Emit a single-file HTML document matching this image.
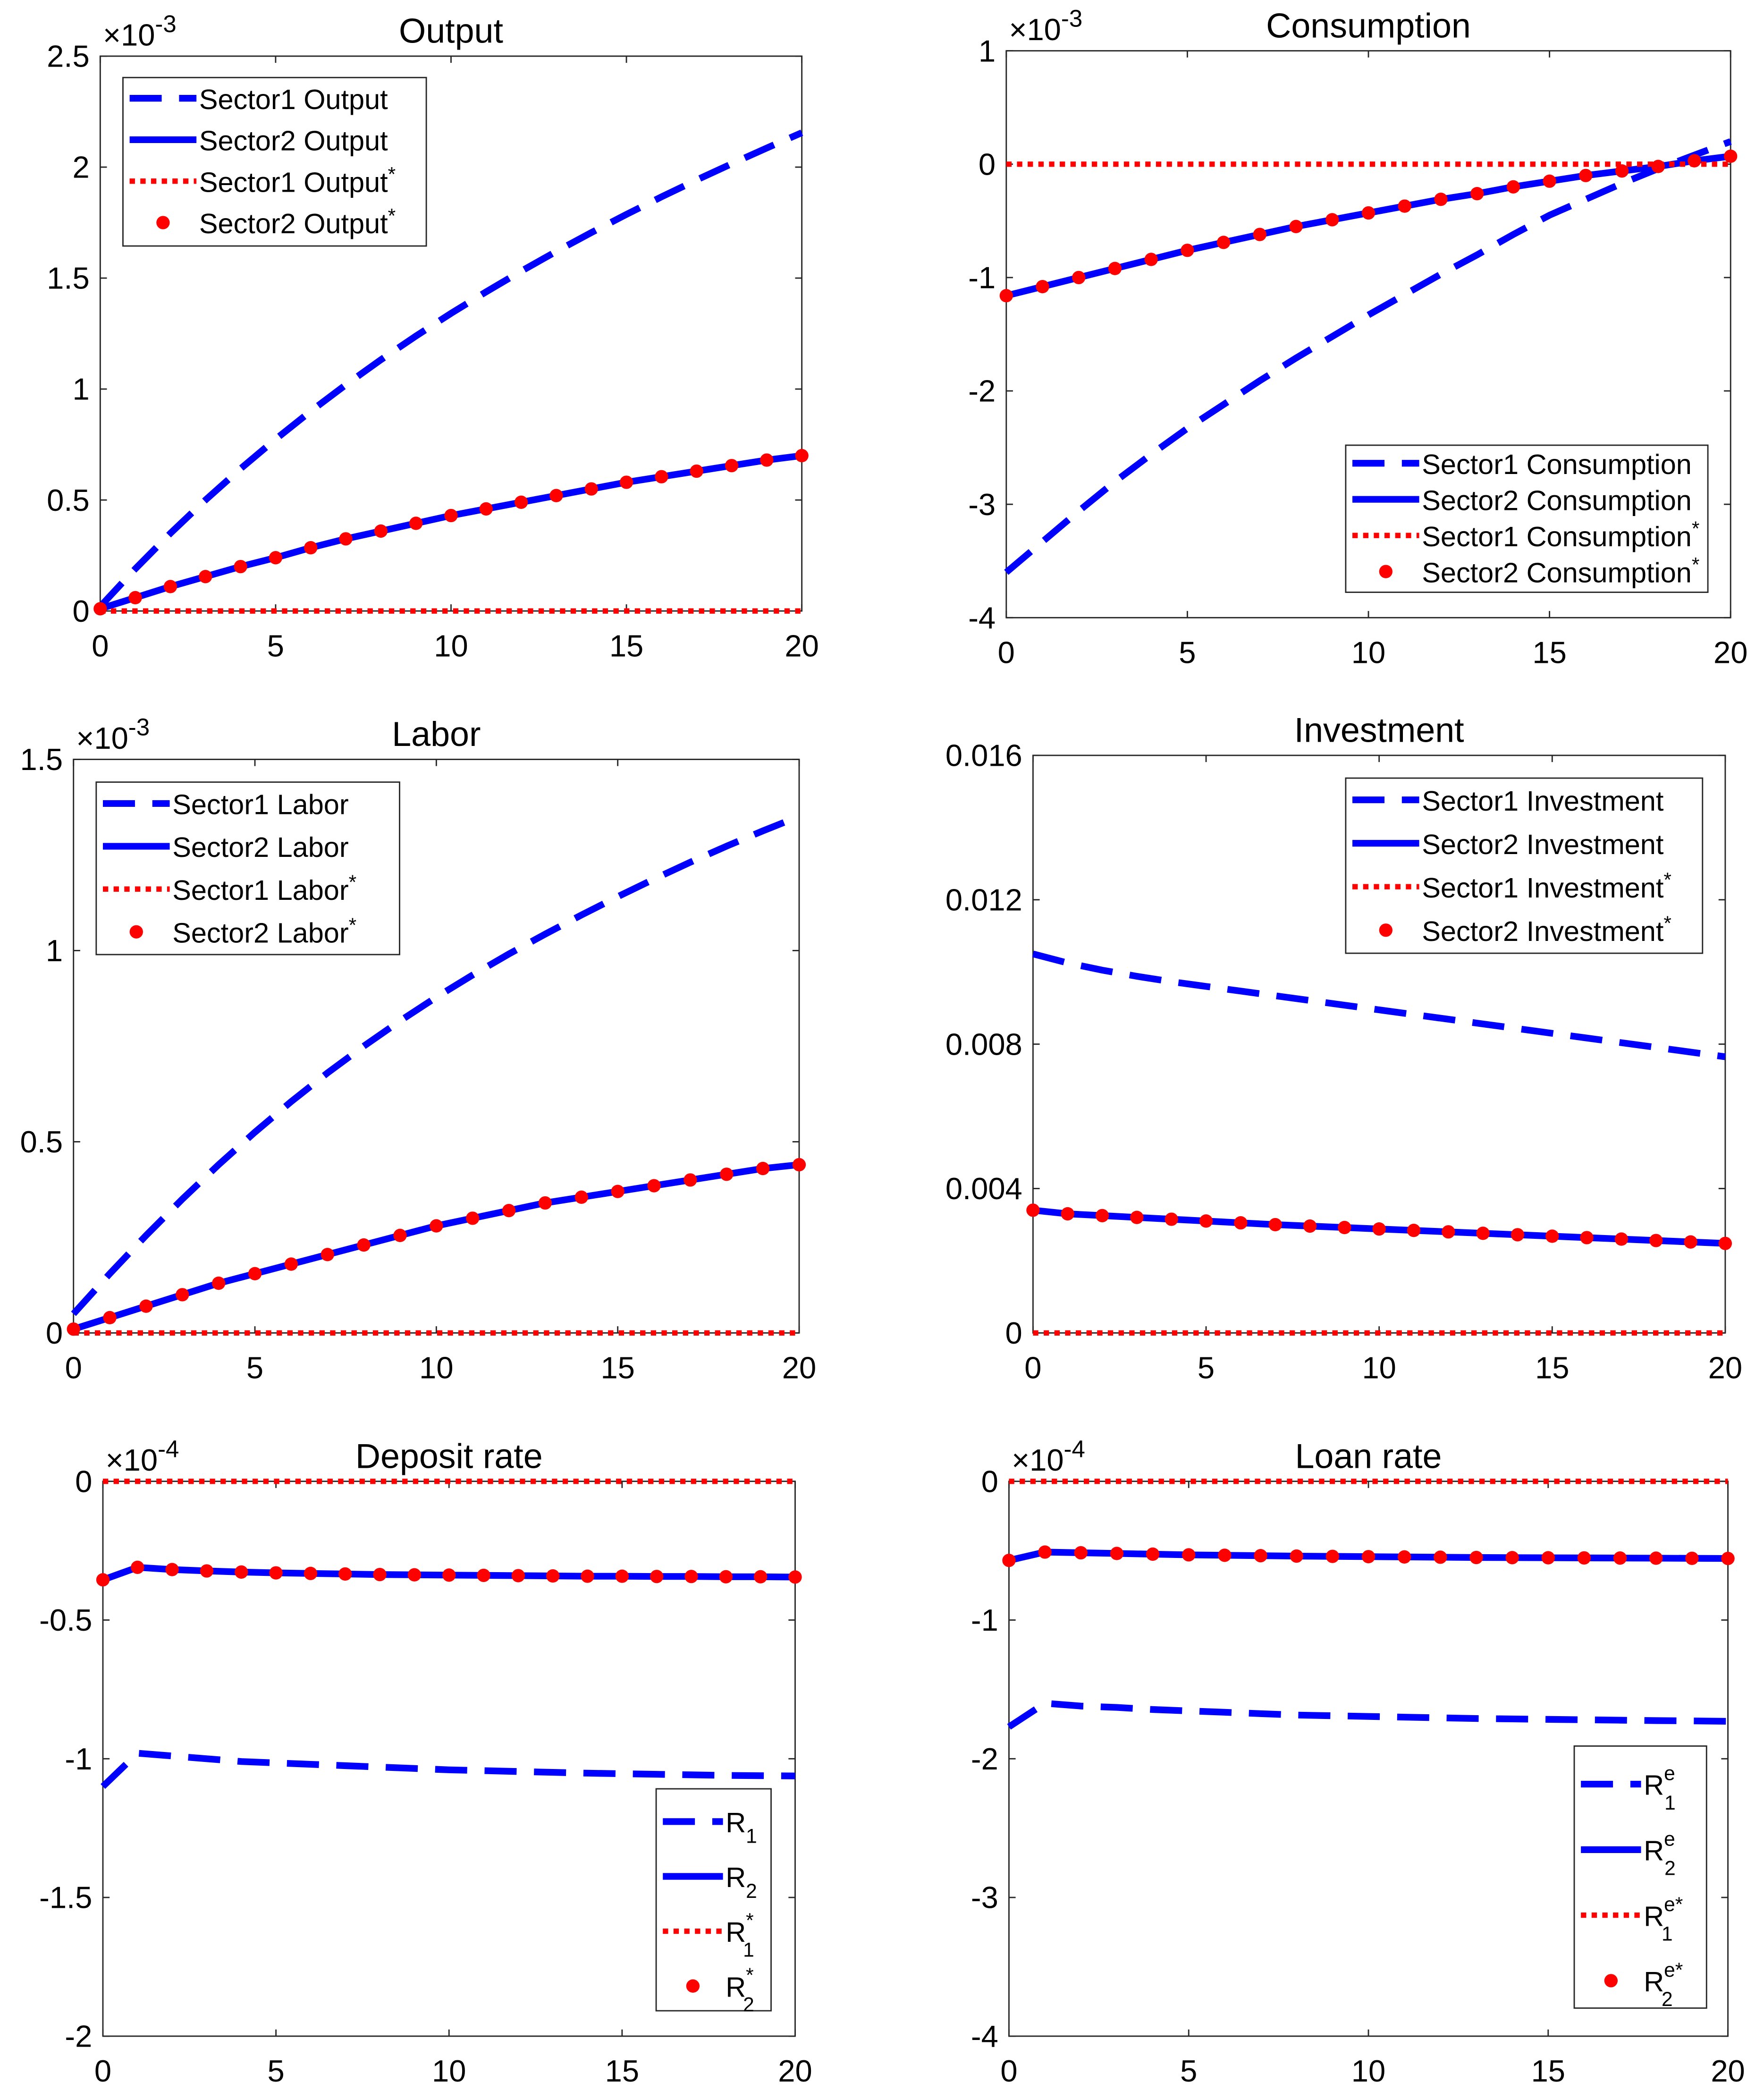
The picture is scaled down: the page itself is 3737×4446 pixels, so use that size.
<!DOCTYPE html>
<html><head><meta charset="utf-8"><style>
html,body{margin:0;padding:0;background:#fff}
svg{display:block}
text{font-family:"Liberation Sans",sans-serif;fill:#000}
</style></head><body>
<svg id="fig" width="3737" height="4446" viewBox="0 0 1320 1570" preserveAspectRatio="none" xmlns="http://www.w3.org/2000/svg"></svg>
<script>
// ---- data (t = 0..20) ----
const periods = [0,1,2,3,4,5,6,7,8,9,10,11,12,13,14,15,16,17,18,19,20];
const xTicks = [0,5,10,15,20];

const outputS1 = [0.02,0.19,0.35,0.5,0.641,0.774,0.9,1.019,1.132,1.239,1.341,1.438,1.531,1.62,1.705,1.787,1.866,1.942,2.015,2.086,2.155];
const outputS2 = [0.01,0.06,0.11,0.155,0.2,0.24,0.285,0.325,0.36,0.395,0.43,0.46,0.49,0.52,0.55,0.58,0.605,0.63,0.655,0.68,0.7];
const outputTicks = [0,0.5,1,1.5,2,2.5];

const consS1 = [-3.6,-3.33,-3.06,-2.8,-2.56,-2.33,-2.12,-1.91,-1.71,-1.52,-1.33,-1.15,-0.97,-0.8,-0.62,-0.45,-0.31,-0.17,-0.04,0.08,0.2];
const consS2 = [-1.16,-1.08,-1.0,-0.92,-0.84,-0.76,-0.69,-0.62,-0.55,-0.49,-0.43,-0.37,-0.31,-0.26,-0.2,-0.15,-0.1,-0.06,-0.02,0.03,0.07];
const consTicks = [-4,-3,-2,-1,0,1];

const laborS1 = [0.05,0.155,0.255,0.35,0.44,0.525,0.605,0.68,0.75,0.816,0.878,0.936,0.991,1.043,1.093,1.141,1.187,1.231,1.273,1.313,1.351];
const laborS2 = [0.01,0.04,0.07,0.1,0.13,0.155,0.18,0.205,0.23,0.255,0.28,0.3,0.32,0.34,0.355,0.37,0.385,0.4,0.415,0.43,0.44];
const laborTicks = [0,0.5,1,1.5];

const invS1 = [0.0105,0.01025,0.01005,0.00988,0.00973,0.0096,0.00947,0.00934,0.00921,0.00908,0.00895,0.00882,0.00869,0.00856,0.00843,0.0083,0.00817,0.00804,0.00791,0.00778,0.00765];
const invS2 = [0.0034,0.0033,0.00325,0.0032,0.00315,0.0031,0.00305,0.003,0.00296,0.00292,0.00288,0.00284,0.0028,0.00276,0.00272,0.00268,0.00264,0.0026,0.00256,0.00252,0.00248];
const invTicks = [0,0.004,0.008,0.012,0.016];
const invTickLabels = ["0","0.004","0.008","0.012","0.016"];

const depR1 = [-1.1,-0.98,-0.99,-1.0,-1.01,-1.015,-1.02,-1.025,-1.03,-1.035,-1.04,-1.043,-1.046,-1.049,-1.052,-1.054,-1.056,-1.058,-1.06,-1.061,-1.062];
const depR2 = [-0.355,-0.31,-0.318,-0.323,-0.327,-0.33,-0.332,-0.334,-0.336,-0.337,-0.338,-0.339,-0.34,-0.341,-0.342,-0.342,-0.343,-0.343,-0.344,-0.344,-0.345];
const depTicks = [-2,-1.5,-1,-0.5,0];

const loanR1 = [-1.77,-1.6,-1.62,-1.63,-1.645,-1.655,-1.665,-1.675,-1.685,-1.69,-1.695,-1.7,-1.705,-1.71,-1.713,-1.716,-1.719,-1.722,-1.725,-1.727,-1.73];
const loanR2 = [-0.57,-0.51,-0.515,-0.52,-0.525,-0.53,-0.533,-0.536,-0.539,-0.541,-0.543,-0.545,-0.547,-0.549,-0.55,-0.551,-0.552,-0.553,-0.554,-0.555,-0.556];
const loanTicks = [-4,-3,-2,-1,0];

const zeros = periods.map(() => 0);

const NS = "http://www.w3.org/2000/svg";
const svg = document.getElementById("fig");
function el(tag, attrs, parent) {
  const e = document.createElementNS(NS, tag);
  for (const k in attrs) e.setAttribute(k, attrs[k]);
  (parent || svg).appendChild(e);
  return e;
}

const panels = [
  {key:"output", title:"Output", x0:75,x1:600,y0:42,y1:457, ymin:0,ymax:2.5, yt:outputTicks, exp:"-3",
   s1:outputS1, s2:outputS2, legend:{x:92,y:58,w:227,h:126,rowH:31, names:["Sector1 Output","Sector2 Output","Sector1 Output*","Sector2 Output*"]}},
  {key:"consumption", title:"Consumption", x0:753,x1:1295,y0:38,y1:462, ymin:-4,ymax:1, yt:consTicks, exp:"-3",
   s1:consS1, s2:consS2, legend:{x:1007,y:333,w:271,h:110,rowH:27, names:["Sector1 Consumption","Sector2 Consumption","Sector1 Consumption*","Sector2 Consumption*"]}},
  {key:"labor", title:"Labor", x0:55,x1:598,y0:568,y1:997, ymin:0,ymax:1.5, yt:laborTicks, exp:"-3",
   s1:laborS1, s2:laborS2, legend:{x:72,y:585,w:227,h:129,rowH:32, names:["Sector1 Labor","Sector2 Labor","Sector1 Labor*","Sector2 Labor*"]}},
  {key:"investment", title:"Investment", x0:773,x1:1291,y0:565,y1:997, ymin:0,ymax:0.016, yt:invTicks, ytl:invTickLabels, exp:null,
   s1:invS1, s2:invS2, legend:{x:1007,y:582,w:267,h:131,rowH:32.5, names:["Sector1 Investment","Sector2 Investment","Sector1 Investment*","Sector2 Investment*"]}},
  {key:"deposit-rate", title:"Deposit rate", x0:77,x1:595,y0:1108,y1:1523, ymin:-2,ymax:0, yt:depTicks, exp:"-4",
   s1:depR1, s2:depR2, legend:{x:491,y:1338,w:86,h:166,rowH:41, sub:true, names:[["1",""],["2",""],["1","*"],["2","*"]]}},
  {key:"loan-rate", title:"Loan rate", x0:755,x1:1293,y0:1108,y1:1523, ymin:-4,ymax:0, yt:loanTicks, exp:"-4",
   s1:loanR1, s2:loanR2, legend:{x:1178,y:1306,w:99,h:196,rowH:49, sub:true, names:[["1","e"],["2","e"],["1","e*"],["2","e*"]]}}
];

const blue = "#0000ff", red = "#ff0000";

panels.forEach(p => {
  const g = el("g", {});
  
  
  const sx = v => p.x0 + (v - 0) / 20 * (p.x1 - p.x0);
  const sy = v => p.y1 - (v - p.ymin) / (p.ymax - p.ymin) * (p.y1 - p.y0);

  const frame = el("rect", {x:p.x0,y:p.y0,width:p.x1-p.x0,height:p.y1-p.y0,fill:"#fff",stroke:"#262626","stroke-width":1}, g);
  
  

  xTicks.forEach(t => {
    const x = sx(t);
    el("line",{x1:x,x2:x,y1:p.y1,y2:p.y1-5,stroke:"#262626"},g);
    el("line",{x1:x,x2:x,y1:p.y0,y2:p.y0+5,stroke:"#262626"},g);
    const tx = el("text",{x:x,y:p.y1+34,"font-size":23,"text-anchor":"middle"},g);
    tx.textContent = t;
    
    
  });
  p.yt.forEach((t,i) => {
    const y = sy(t);
    el("line",{x1:p.x0,x2:p.x0+5,y1:y,y2:y,stroke:"#262626"},g);
    el("line",{x1:p.x1,x2:p.x1-5,y1:y,y2:y,stroke:"#262626"},g);
    const tx = el("text",{x:p.x0-8,y:y+8,"font-size":23,"text-anchor":"end"},g);
    tx.textContent = p.ytl ? p.ytl[i] : String(t);
    
    
  });
  if (p.exp) {
    const ex = el("text",{x:p.x0+2,y:p.y0-8,"font-size":23},g);
    
    
    ex.innerHTML = '×10<tspan dy="-10" font-size="18">' + p.exp + '</tspan>';
  }
  const title = el("text",{x:(p.x0+p.x1)/2,y:p.y0-10,"font-size":26,"text-anchor":"middle"},g);
  title.textContent = p.title;
  
  

  const path = arr => periods.map((t,i) => (i?"L":"M") + sx(t).toFixed(2) + " " + sy(arr[i]).toFixed(2)).join(" ");
  const l1 = el("path",{d:path(p.s1),fill:"none",stroke:blue,"stroke-width":5,"stroke-dasharray":"24 13"},g);
  
  
  const l2 = el("path",{d:path(p.s2),fill:"none",stroke:blue,"stroke-width":5},g);
  
  
  const l3 = el("path",{d:path(zeros),fill:"none",stroke:red,"stroke-width":4,"stroke-dasharray":"4 4"},g);
  
  
  periods.forEach((t,i) => {
    const c = el("circle",{cx:sx(t),cy:sy(p.s2[i]),r:5,fill:red},g);
    
    
  });

  const L = p.legend;
  const lg = el("g",{},g);
  
  
  el("rect",{x:L.x,y:L.y,width:L.w,height:L.h,fill:"#fff",stroke:"#262626"},lg);
  const styles = [
    {stroke:blue,"stroke-width":5,"stroke-dasharray":"24 13"},
    {stroke:blue,"stroke-width":5},
    {stroke:red,"stroke-width":4,"stroke-dasharray":"4 4"},
    null];
  L.names.forEach((nm,i) => {
    const cy = L.y + L.rowH*(i+0.5) + (L.sub ? 4 : 0);
    const lx0 = L.x + 5, lx1 = L.x + (L.sub ? 50 : 55);
    if (styles[i]) { const a = Object.assign({x1:lx0,x2:lx1,y1:cy,y2:cy}, styles[i]); el("line",a,lg); }
    else el("circle",{cx:(lx0+lx1)/2,cy:cy,r:5,fill:red},lg);
    const tx = el("text",{x:lx1+2,y:cy+8,"font-size":21},lg);
    
    
    if (L.sub) {
      tx.innerHTML = 'R<tspan dy="-11" font-size="15">' + nm[1] + '</tspan><tspan dx="' + (-(nm[1].length*8)) + '" dy="22" font-size="15">' + nm[0] + '</tspan>';
      if (!nm[1]) tx.innerHTML = 'R<tspan dy="8" font-size="15">' + nm[0] + '</tspan>';
    } else {
      const star = nm.endsWith("*");
      tx.innerHTML = star ? nm.slice(0,-1) + '<tspan dy="-8" font-size="15">*</tspan>' : nm;
    }
  });
});
</script>
</body></html>
